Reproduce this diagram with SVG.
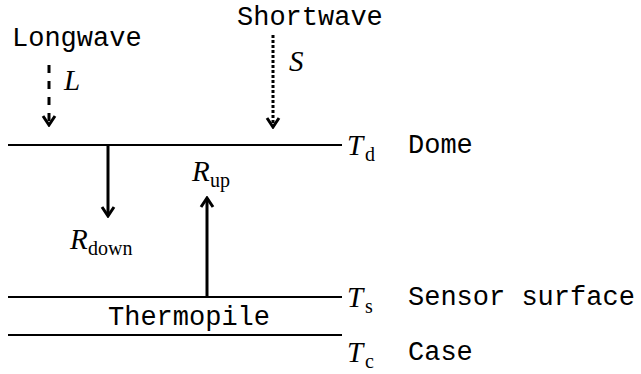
<svg xmlns="http://www.w3.org/2000/svg" width="641" height="374" viewBox="0 0 641 374">
<style>
.mono{font-family:"Liberation Mono","Courier New",monospace;font-size:27px;fill:#000}
.sym{font-family:"Liberation Serif","Times New Roman",serif;font-style:italic;font-size:29px;fill:#000}
.sub{font-family:"Liberation Serif","Times New Roman",serif;font-size:20px;fill:#000}
.layer{stroke:#000;stroke-width:2;fill:none}
.arr{stroke:#000;stroke-width:3;fill:none;marker-end:url(#chev)}
</style>
<defs>
<marker id="chev" viewBox="-12 -8 14 16" markerWidth="14" markerHeight="16" refX="0" refY="0" orient="auto" markerUnits="userSpaceOnUse">
<path d="M-9,-6 L0,0 L-9,6" fill="none" stroke="#000" stroke-width="3"/>
</marker>
</defs>
<g id="dome">
<line class="layer" x1="8" y1="145" x2="342" y2="145"/>
<text class="sym" x="347" y="155">T</text><text class="sub" x="365" y="161">d</text>
<text class="mono" x="408" y="153">Dome</text>
</g>
<g id="sensor">
<line class="layer" x1="8" y1="297" x2="342" y2="297"/>
<text class="sym" x="347" y="307">T</text><text class="sub" x="365" y="313">s</text>
<text class="mono" x="408" y="305">Sensor surface</text>
</g>
<g id="case">
<line class="layer" x1="8" y1="335" x2="342" y2="335"/>
<text class="sym" x="347" y="362">T</text><text class="sub" x="365" y="368">c</text>
<text class="mono" x="408" y="360">Case</text>
</g>
<g id="thermopile">
<text class="mono" x="108" y="325">Thermopile</text>
</g>
<g id="longwave">
<text class="mono" x="12" y="46">Longwave</text>
<text class="sym" x="64" y="90">L</text>
</g>
<g id="shortwave">
<text class="mono" x="237" y="25">Shortwave</text>
<text class="sym" x="289" y="71">S</text>
</g>
<g id="rdown-label">
<text class="sym" x="70" y="249">R</text><text class="sub" x="88" y="255">down</text>
</g>
<g id="rup-label">
<text class="sym" x="192" y="181">R</text><text class="sub" x="210" y="187">up</text>
</g>
<g id="connectors">
<line class="arr" x1="49" y1="65" x2="49" y2="125" stroke-dasharray="8 8"/>
<line class="arr" x1="273" y1="35" x2="273" y2="127" stroke-dasharray="3 2"/>
<line class="arr" x1="108" y1="145" x2="108" y2="216"/>
<line class="arr" x1="207" y1="297" x2="207" y2="198"/>
</g>
</svg>
